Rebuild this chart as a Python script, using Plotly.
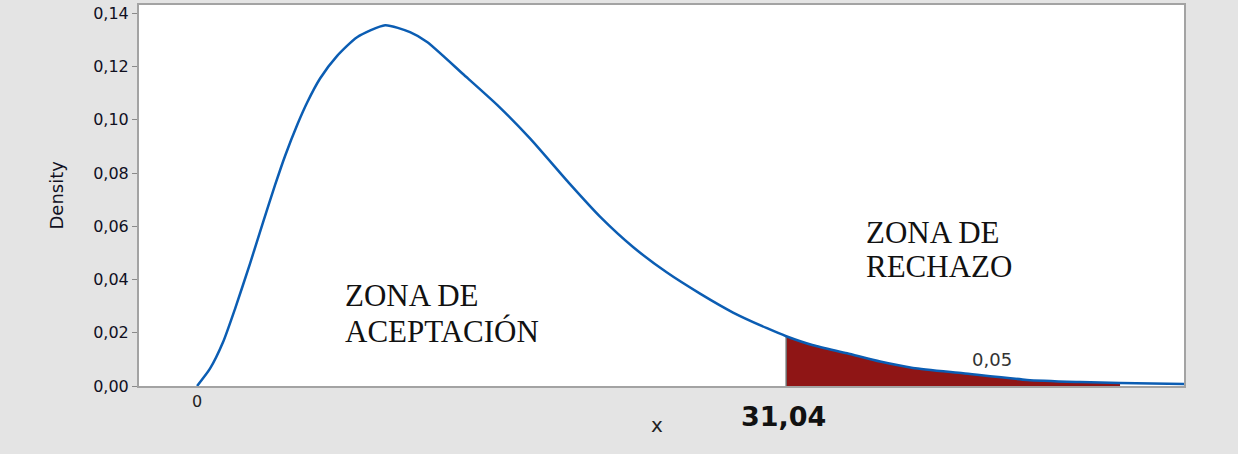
import plotly.graph_objects as go

# curve (x, density)
x_vals = [0, 0.68, 1.37, 2.0, 2.79, 3.5, 4.11, 4.64, 5.3, 5.8, 6.48, 7.38, 8.43,
          9.91, 11.22, 12.12, 14.01, 15.81, 17.54, 19.65, 21.23, 22.97, 24.76,
          26.50, 28.24, 30.03, 31.04, 32.46, 34.25, 35.99, 37.72, 40.36, 43.73,
          46.52, 48.63, 52.16]
density = [0.0, 0.0065, 0.0165, 0.0290, 0.0460, 0.0620, 0.0755, 0.0865, 0.0985,
           0.1065, 0.1155, 0.1240, 0.1310, 0.1355, 0.1329, 0.1292, 0.1172, 0.1056,
           0.0930, 0.0758, 0.0636, 0.0522, 0.0426, 0.0347, 0.0276, 0.0217, 0.0187,
           0.0153, 0.0123, 0.0092, 0.0068, 0.0048, 0.0023, 0.0015, 0.0011, 0.0007]

critical = 31.04
fill_end = 48.63
alpha_label = "0,05"
y_ticks = [0.00, 0.02, 0.04, 0.06, 0.08, 0.10, 0.12, 0.14]

tail_x = [x for x in x_vals if critical <= x <= fill_end]
tail_y = [d for x, d in zip(x_vals, density) if critical <= x <= fill_end]
crit_y = density[x_vals.index(critical)]

fig = go.Figure()

# rejection area
fig.add_trace(go.Scatter(x=tail_x, y=tail_y, mode='lines', fill='tozeroy',
                         fillcolor='#8f1515', line=dict(width=0, shape='spline'),
                         hoverinfo='skip'))
fig.add_trace(go.Scatter(x=[critical, critical], y=[0, crit_y], mode='lines',
                         line=dict(color='#6e6e6e', width=1.5), hoverinfo='skip'))
# density curve
fig.add_trace(go.Scatter(x=x_vals, y=density, mode='lines',
                         line=dict(color='#0b5db3', width=2.5, shape='spline', smoothing=0.6)))

tick_font = dict(family='DejaVu Sans', size=16, color='#10101f')
serif = dict(family='Liberation Serif', size=31, color='#111111')

annotations = [
    dict(text='ZONA DE', x=7.7, y=0.0340, xanchor='left', yanchor='middle', font=serif),
    dict(text='ACEPTACIÓN', x=7.7, y=0.0205, xanchor='left', yanchor='middle', font=serif),
    dict(text='ZONA DE', x=35.15, y=0.0577, xanchor='left', yanchor='middle', font=serif),
    dict(text='RECHAZO', x=35.15, y=0.0450, xanchor='left', yanchor='middle', font=serif),
    dict(text=alpha_label, x=41.9, y=0.0101, xanchor='center', yanchor='middle',
         font=dict(family='DejaVu Sans', size=18, color='#333333')),
    dict(text='<b>31,04</b>', x=critical, xref='x', y=0, yref='paper', yanchor='middle',
         xanchor='center', yshift=-30, xshift=-3,
         font=dict(family='DejaVu Sans', size=27, color='#111111')),
    dict(text='x', x=0.496, xref='paper', y=0, yref='paper', xanchor='center',
         yanchor='middle', yshift=-39, font=dict(family='DejaVu Sans', size=20, color='#222222')),
    dict(text='Density', x=0, xref='paper', y=0.5, yref='paper', xanchor='center',
         yanchor='middle', xshift=-83, textangle=-90,
         font=dict(family='DejaVu Sans', size=18, color='#10101f')),
]
for a in annotations:
    a.setdefault('xref', 'x')
    a.setdefault('yref', 'y')
    a['showarrow'] = False

fig.update_layout(
    width=1238, height=454,
    margin=dict(l=139, r=54, t=3, b=68),
    paper_bgcolor='#e4e4e4', plot_bgcolor='#ffffff',
    showlegend=False, separators=',.',
    annotations=annotations,
    xaxis=dict(range=[-3.06, 52.0], showgrid=False, zeroline=False,
               tickvals=[0], ticktext=['0'], ticks='', tickfont=dict(family='DejaVu Sans', size=16, color='#222222'),
               showline=True, mirror=True, linecolor='#a3a3a3', linewidth=2),
    yaxis=dict(range=[0, 0.1431], showgrid=False, zeroline=False,
               tickvals=y_ticks, tickformat='.2f', ticks='outside', ticklen=5,
               tickcolor='#8a8a8a', tickfont=tick_font,
               showline=True, mirror=True, linecolor='#a3a3a3', linewidth=2),
)

fig.write_html("out.html", config={'displayModeBar': False},
               post_script="document.body.style.margin='0';")
